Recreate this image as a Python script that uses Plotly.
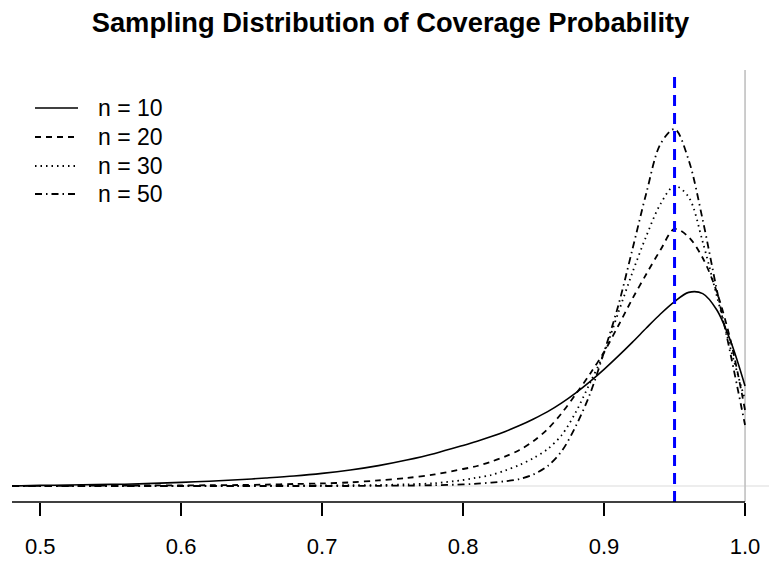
import plotly.graph_objects as go

# ---- data ----
coverage = [0.48, 0.50, 0.52, 0.54, 0.56, 0.58, 0.60, 0.62, 0.64, 0.66, 0.68, 0.70,
            0.72, 0.74, 0.76, 0.78, 0.80, 0.81, 0.82, 0.83, 0.84, 0.85, 0.86, 0.87,
            0.88, 0.89, 0.90, 0.91, 0.92, 0.93, 0.94, 0.95, 0.96, 0.97, 0.98, 0.99, 1.00]

dens_n10 = [0.0, 0.03, 0.05, 0.07, 0.09, 0.13, 0.18, 0.24, 0.31, 0.40, 0.50, 0.63,
            0.80, 1.02, 1.30, 1.63, 2.03, 2.24, 2.47, 2.73, 3.02, 3.35, 3.72, 4.16,
            4.66, 5.22, 5.83, 6.49, 7.18, 7.9, 8.6, 9.22, 9.68, 9.62, 8.8, 7.2, 5.0]
dens_n20 = [0.0, 0.01, 0.01, 0.02, 0.02, 0.03, 0.03, 0.04, 0.05, 0.07, 0.10, 0.13,
            0.18, 0.28, 0.40, 0.58, 0.85, 1.0, 1.22, 1.48, 1.8, 2.25, 2.85, 3.65,
            4.6, 5.6, 6.7, 8.0, 9.35, 10.6, 11.8, 12.85, 12.45, 11.4, 9.7, 7.2, 3.8]
dens_n30 = [0.0, 0.0, 0.0, 0.0, 0.0, 0.0, 0.0, 0.01, 0.01, 0.01, 0.02, 0.03,
            0.04, 0.05, 0.08, 0.14, 0.3, 0.42, 0.55, 0.78, 1.05, 1.4, 1.85, 2.55,
            3.7, 5.15, 6.65, 8.65, 10.65, 12.5, 14.1, 15.0, 14.45, 12.2, 9.5, 6.8, 4.3]
dens_n50 = [0.0, 0.0, 0.0, 0.0, 0.0, 0.0, 0.0, 0.0, 0.0, 0.0, 0.0, 0.0,
            0.0, 0.01, 0.02, 0.04, 0.08, 0.12, 0.17, 0.24, 0.35, 0.58, 1.0, 1.75,
            3.0, 4.6, 6.7, 9.0, 11.8, 14.65, 17.1, 17.85, 16.3, 13.3, 9.8, 6.5, 3.05]

series_names = ["n = 10", "n = 20", "n = 30", "n = 50"]
tick_values = [0.5, 0.6, 0.7, 0.8, 0.9, 1.0]
tick_labels = ["0.5", "0.6", "0.7", "0.8", "0.9", "1.0"]
nominal_level = 0.95

# ---- styles / layout geometry (pixels) ----
W, H = 769, 565
ML, MR, MT, MB = 12, 0, 70, 63
PW, PH = W - ML - MR, H - MT - MB
dashes = ["solid", "6px,5px", "1.5px,4px", "7px,4px,1.5px,4px"]
widths = [1.6, 1.8, 1.8, 1.8]
FONT = "Liberation Sans, Arial, Helvetica, sans-serif"


def px_x(px):
    return (px - ML) / PW


def px_y(py):
    return (H - MB - py) / PH


fig = go.Figure()
all_dens = [dens_n10, dens_n20, dens_n30, dens_n50]
for name, ys, dash, w in zip(series_names, all_dens, dashes, widths):
    fig.add_trace(go.Scatter(
        x=coverage, y=ys, mode="lines", name=name, showlegend=False,
        line=dict(color="black", width=w, dash=dash, shape="spline", smoothing=0.9),
    ))

# reference lines
fig.add_shape(type="line", xref="paper", yref="y", x0=0, x1=1, y0=0, y1=0,
              line=dict(color="#dcdcdc", width=1.2), layer="below")
fig.add_shape(type="line", xref="x", yref="paper", x0=1.0, x1=1.0, y0=0, y1=1,
              line=dict(color="#c0c0c0", width=1.6), layer="below")
fig.add_shape(type="line", xref="x", yref="paper", x0=nominal_level, x1=nominal_level, y0=0, y1=1,
              line=dict(color="#0000ff", width=3, dash="11px,7px"))
# R-style axis line (ends at the last tick)
fig.add_shape(type="line", xref="x", yref="paper", x0=0.48, x1=1.0, y0=0, y1=0,
              line=dict(color="black", width=1.6))

# legend (R style, drawn top-left inside the plot)
legend_rows = [108, 137, 166, 194]
for name, dash, w, row in zip(series_names, dashes, widths, legend_rows):
    fig.add_shape(type="line", xref="paper", yref="paper",
                  x0=px_x(35), x1=px_x(78), y0=px_y(row), y1=px_y(row),
                  line=dict(color="black", width=w, dash=dash))
    fig.add_annotation(text=name, xref="paper", yref="paper",
                       x=px_x(96), y=px_y(row), xanchor="left", yanchor="middle",
                       showarrow=False, font=dict(size=23, family=FONT, color="black"))

fig.update_layout(
    width=W, height=H,
    margin=dict(l=ML, r=MR, t=MT, b=MB, autoexpand=False),
    paper_bgcolor="white", plot_bgcolor="white",
    font=dict(family=FONT, color="black"),
    title=dict(text="<b>Sampling Distribution of Coverage Probability</b>",
               x=0.5, xref="paper", y=1 - 22 / H, yref="container",
               xanchor="center", yanchor="middle",
               font=dict(size=27.3, family=FONT, color="black")),
    xaxis=dict(range=[0.48, 1.017], tickvals=tick_values, ticktext=tick_labels,
               ticks="outside", ticklen=13, tickwidth=1.6, tickcolor="black",
               showline=False, showgrid=False, zeroline=False,
               tickfont=dict(size=22, family=FONT, color="black"),
               ticklabelstandoff=12),
    yaxis=dict(range=[-0.8, 20.8], visible=False, showgrid=False, zeroline=False),
    showlegend=False,
)

fig.write_html("out.html")
